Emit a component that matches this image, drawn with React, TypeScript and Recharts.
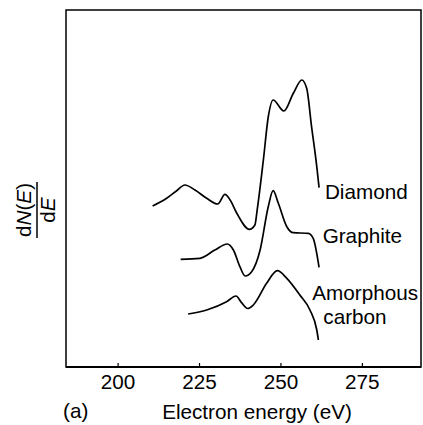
import React from 'react';
import { ComposedChart, Line, XAxis, YAxis, ReferenceArea, ReferenceDot } from 'recharts';

const energyTicks = [200, 225, 250, 275];

const diamondE = [210.6, 214.9, 218.0, 220.5, 223.6, 227.2, 230.6, 232.8, 234.4, 236.4, 240.3, 242.0, 242.7, 244.6, 246.1, 247.6, 250.9, 253.8, 256.4, 257.9, 259.4, 261.0, 261.7];
const diamondV = [161, 168.7, 176.3, 182, 177, 168.7, 163, 172.7, 167, 154, 137.7, 142, 157, 207, 250, 267, 256, 273.7, 287, 278.7, 240.3, 200.3, 179.3];

const graphiteE = [219.2, 225.1, 229.7, 233.5, 235.4, 237.4, 239.0, 241.0, 243.6, 246.1, 247.6, 249.2, 251.8, 253.8, 258.4, 259.9, 261.7];
const graphiteV = [107.7, 108.7, 117, 123, 117, 100.3, 91, 95.3, 117, 160.3, 176.3, 163.7, 140.3, 134.3, 133.7, 128.7, 99.7];

const amorphousE = [221.5, 227.2, 233.3, 236.2, 237.9, 239.8, 241.5, 245.6, 248.9, 251.8, 255.8, 258.9, 261.0, 261.5];
const amorphousV = [53, 57, 65.3, 71, 64.3, 58.5, 62, 83.7, 96.3, 88.7, 72, 57, 37, 27];

const curveLabels = ['Diamond', 'Graphite', 'Amorphous', 'carbon'];
const labelE = [263.5, 262.8, 259.6, 263.0];
const labelV = [175, 131, 74, 50.3];

const toData = (xs: number[], ys: number[]) => xs.map((x, i) => ({ x, y: ys[i] }));
const diamond = toData(diamondE, diamondV);
const graphite = toData(graphiteE, graphiteV);
const amorphous = toData(amorphousE, amorphousV);

const FONT = '"Liberation Sans", Arial, Helvetica, sans-serif';
const FS = 20.7;

const Tick = (props: any) => {
  const { x, y, payload } = props;
  return (
    <g>
      <line x1={x} y1={y} x2={x} y2={y - 4} stroke="#000" strokeWidth={1.2} />
      <text x={x} y={y + 22} textAnchor="middle" fontSize={FS} fontFamily={FONT} fill="#000">
        {payload.value}
      </text>
    </g>
  );
};

const makeLabel = (text: string) => (props: any) => {
  const vb = props.viewBox || {};
  const cx = (vb.x ?? 0) + (vb.width ?? 0) / 2;
  const cy = (vb.y ?? 0) + (vb.height ?? 0) / 2;
  return (
    <text x={cx} y={cy + 7} textAnchor="start" fontSize={FS} fontFamily={FONT} fill="#000">
      {text}
    </text>
  );
};

export default function App() {
  return (
    <div style={{ position: 'absolute', left: 0, top: 0, width: 423, height: 425, background: '#fff' }}>
      <ComposedChart
        width={423}
        height={425}
        margin={{ top: 10, right: 2, bottom: 28, left: 66 }}
      >
        <XAxis
          type="number"
          dataKey="x"
          domain={[184, 293]}
          ticks={energyTicks}
          allowDataOverflow
          height={30}
          tickSize={0}
          tickMargin={0}
          tickLine={false}
          axisLine={{ stroke: '#000', strokeWidth: 2 }}
          tick={<Tick />}
        />
        <YAxis type="number" domain={[0, 357]} hide allowDataOverflow />
        <ReferenceArea x1={184} x2={293} y1={0} y2={357} fill="none" stroke="#000" strokeWidth={1.5} ifOverflow="visible" />
        <Line data={diamond} dataKey="y" type="monotone" dot={false} stroke="#000" strokeWidth={1.7} isAnimationActive={false} />
        <Line data={graphite} dataKey="y" type="monotone" dot={false} stroke="#000" strokeWidth={1.7} isAnimationActive={false} />
        <Line data={amorphous} dataKey="y" type="monotone" dot={false} stroke="#000" strokeWidth={1.7} isAnimationActive={false} />
        {curveLabels.map((t, i) => (
          <ReferenceDot
            key={t}
            x={labelE[i]}
            y={labelV[i]}
            r={1}
            fill="none"
            stroke="none"
            ifOverflow="visible"
            label={{ content: makeLabel(t) }}
          />
        ))}
      </ComposedChart>
      <svg
        width={423}
        height={425}
        style={{ position: 'absolute', left: 0, top: 0, pointerEvents: 'none' }}
      >
        <text x={257} y={419} textAnchor="middle" fontSize={FS} fontFamily={FONT} fill="#000">
          Electron energy (eV)
        </text>
        <text x={63} y={418} textAnchor="start" fontSize={FS} fontFamily={FONT} fill="#000">
          (a)
        </text>
        <g transform="rotate(-90, 37, 210)">
          <text x={37} y={204} textAnchor="middle" fontSize={FS} fontFamily={FONT} fill="#000">
            d<tspan fontStyle="italic">N</tspan>(<tspan fontStyle="italic">E</tspan>)
          </text>
          <line x1={9} y1={210} x2={65} y2={210} stroke="#000" strokeWidth={1.5} />
          <text x={37} y={228} textAnchor="middle" fontSize={FS} fontFamily={FONT} fill="#000">
            d<tspan fontStyle="italic">E</tspan>
          </text>
        </g>
      </svg>
    </div>
  );
}
